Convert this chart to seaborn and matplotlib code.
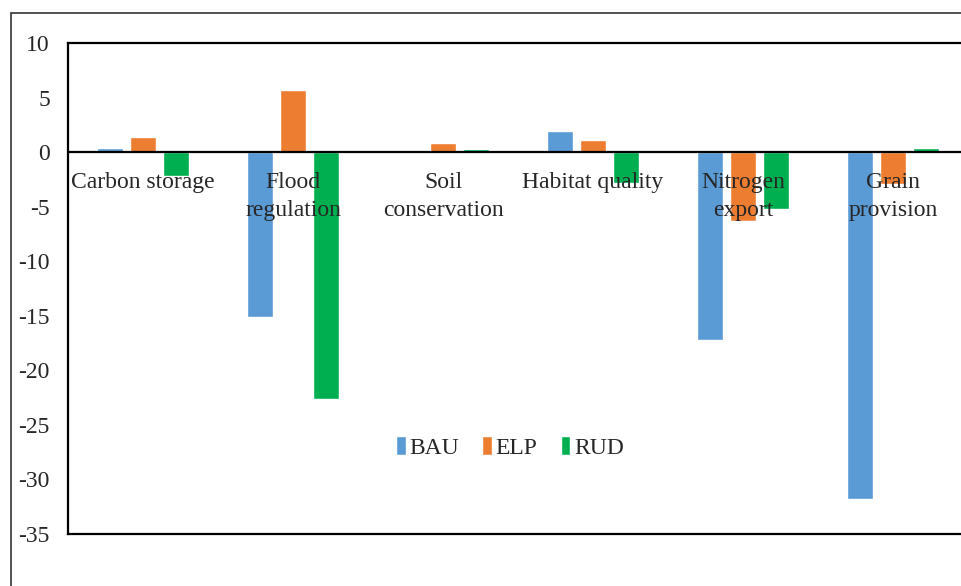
import numpy as np
import pandas as pd
import matplotlib
matplotlib.use("Agg")
import matplotlib.pyplot as plt
import seaborn as sns
from matplotlib.patches import Rectangle

categories = ["Carbon storage", "Flood\nregulation", "Soil\nconservation",
              "Habitat quality", "Nitrogen\nexport", "Grain\nprovision"]
scenarios = ["BAU", "ELP", "RUD"]
bau = [0.4, -15.1, 0.0, 1.9, -17.2, -31.8]
elp = [1.4, 5.7, 0.8, 1.1, -6.3, -2.95]
rud = [-2.15, -22.65, 0.25, -2.8, -5.25, 0.4]
yticks = [10, 5, 0, -5, -10, -15, -20, -25, -30, -35]

colors = {"BAU": "#5B9BD5", "ELP": "#ED7D31", "RUD": "#00B050"}

df = pd.DataFrame({
    "category": categories * 3,
    "scenario": np.repeat(scenarios, len(categories)),
    "value": bau + elp + rud,
})

sns.set_style("white")
plt.rcParams["font.family"] = ["Liberation Serif", "DejaVu Serif"]
fs = 17

fig = plt.figure(figsize=(9.61, 5.86), dpi=100)
ax = fig.add_axes([68 / 961, 1 - 534 / 586, 900 / 961, 491 / 586])

sns.barplot(data=df, x="category", y="value", hue="scenario",
            order=categories, hue_order=scenarios, palette=colors,
            width=0.66, gap=0.21, saturation=1, ax=ax)

ax.axhline(0, color="black", lw=1.6, zorder=3)
ax.set_xlim(-0.5, len(categories) - 0.5)
ax.set_ylim(-35, 10)
ax.set_yticks(yticks)
ax.set_yticklabels([str(t) for t in yticks])
ax.set_xticks([])
ax.set_xlabel("")
ax.set_ylabel("")
ax.tick_params(axis="y", direction="in", length=6, width=1.3, color="black",
               labelsize=fs, pad=13)
for s in ax.spines.values():
    s.set_visible(True)
    s.set_color("black")
    s.set_linewidth(1.6)

# category names sit just under the zero line
for i, name in enumerate(categories):
    ax.annotate(name, xy=(i, 0), xytext=(0, -14.5), textcoords="offset points",
                ha="center", va="top", fontsize=fs, linespacing=1.4, zorder=4)

ax.legend(loc="center", bbox_to_anchor=(0.491, 0.177), ncol=3, frameon=False,
          handlelength=0.4, handleheight=0.9, handletextpad=0.15,
          columnspacing=1.0, fontsize=fs)

# outer chart border
fig.patches.append(Rectangle((11 / 961, -0.1), 1.1, 1.1 - 13 / 586,
                             transform=fig.transFigure, fill=False,
                             edgecolor="#333333", lw=1.2))

fig.savefig("out.png", dpi=100)
